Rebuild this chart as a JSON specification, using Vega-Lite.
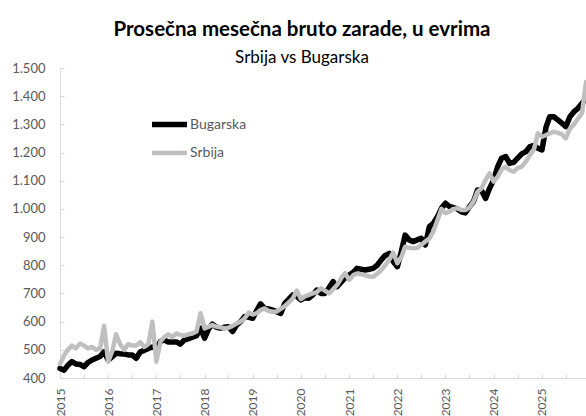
{
  "$schema": "https://vega.github.io/schema/vega-lite/v6.json",
  "width": 526,
  "height": 310,
  "autosize": "none",
  "padding": {"left": 60, "top": 68, "right": 0, "bottom": 38},
  "background": "white",
  "config": {"view": {"stroke": null}, "font": "Lato"},
  "title": {
    "text": "Prosečna mesečna bruto zarade, u evrima",
    "subtitle": "Srbija vs Bugarska",
    "anchor": "middle",
    "frame": "group",
    "dx": -21,
    "offset": -4,
    "font": "Lato",
    "fontSize": 20.5,
    "fontWeight": "bold",
    "color": "#000000",
    "subtitleFont": "Lato",
    "subtitleFontSize": 17,
    "subtitleColor": "#000000",
    "subtitlePadding": 10
  },
  "data": {"values": [
    {"d":"2015-01-01","Bugarska":434,"Srbija":450},
    {"d":"2015-02-01","Bugarska":428,"Srbija":480},
    {"d":"2015-03-01","Bugarska":445,"Srbija":500},
    {"d":"2015-04-01","Bugarska":458,"Srbija":515},
    {"d":"2015-05-01","Bugarska":450,"Srbija":505},
    {"d":"2015-06-01","Bugarska":448,"Srbija":522},
    {"d":"2015-07-01","Bugarska":440,"Srbija":515},
    {"d":"2015-08-01","Bugarska":455,"Srbija":505},
    {"d":"2015-09-01","Bugarska":464,"Srbija":510},
    {"d":"2015-10-01","Bugarska":470,"Srbija":500},
    {"d":"2015-11-01","Bugarska":476,"Srbija":505},
    {"d":"2015-12-01","Bugarska":493,"Srbija":585},
    {"d":"2016-01-01","Bugarska":464,"Srbija":458},
    {"d":"2016-02-01","Bugarska":475,"Srbija":495},
    {"d":"2016-03-01","Bugarska":488,"Srbija":555},
    {"d":"2016-04-01","Bugarska":486,"Srbija":520},
    {"d":"2016-05-01","Bugarska":485,"Srbija":500},
    {"d":"2016-06-01","Bugarska":482,"Srbija":520},
    {"d":"2016-07-01","Bugarska":482,"Srbija":515},
    {"d":"2016-08-01","Bugarska":470,"Srbija":515},
    {"d":"2016-09-01","Bugarska":493,"Srbija":527},
    {"d":"2016-10-01","Bugarska":498,"Srbija":510},
    {"d":"2016-11-01","Bugarska":505,"Srbija":520},
    {"d":"2016-12-01","Bugarska":510,"Srbija":600},
    {"d":"2017-01-01","Bugarska":505,"Srbija":458},
    {"d":"2017-02-01","Bugarska":530,"Srbija":530},
    {"d":"2017-03-01","Bugarska":535,"Srbija":545},
    {"d":"2017-04-01","Bugarska":528,"Srbija":555},
    {"d":"2017-05-01","Bugarska":528,"Srbija":545},
    {"d":"2017-06-01","Bugarska":528,"Srbija":558},
    {"d":"2017-07-01","Bugarska":520,"Srbija":553},
    {"d":"2017-08-01","Bugarska":535,"Srbija":550},
    {"d":"2017-09-01","Bugarska":540,"Srbija":555},
    {"d":"2017-10-01","Bugarska":545,"Srbija":558},
    {"d":"2017-11-01","Bugarska":550,"Srbija":565},
    {"d":"2017-12-01","Bugarska":577,"Srbija":630},
    {"d":"2018-01-01","Bugarska":541,"Srbija":576},
    {"d":"2018-02-01","Bugarska":575,"Srbija":582},
    {"d":"2018-03-01","Bugarska":591,"Srbija":588},
    {"d":"2018-04-01","Bugarska":580,"Srbija":582},
    {"d":"2018-05-01","Bugarska":577,"Srbija":580},
    {"d":"2018-06-01","Bugarska":580,"Srbija":576},
    {"d":"2018-07-01","Bugarska":582,"Srbija":578},
    {"d":"2018-08-01","Bugarska":565,"Srbija":585},
    {"d":"2018-09-01","Bugarska":588,"Srbija":594},
    {"d":"2018-10-01","Bugarska":600,"Srbija":600},
    {"d":"2018-11-01","Bugarska":618,"Srbija":612},
    {"d":"2018-12-01","Bugarska":615,"Srbija":632},
    {"d":"2019-01-01","Bugarska":612,"Srbija":625},
    {"d":"2019-02-01","Bugarska":640,"Srbija":630},
    {"d":"2019-03-01","Bugarska":663,"Srbija":641},
    {"d":"2019-04-01","Bugarska":647,"Srbija":647},
    {"d":"2019-05-01","Bugarska":645,"Srbija":638},
    {"d":"2019-06-01","Bugarska":641,"Srbija":635},
    {"d":"2019-07-01","Bugarska":635,"Srbija":636},
    {"d":"2019-08-01","Bugarska":629,"Srbija":645},
    {"d":"2019-09-01","Bugarska":665,"Srbija":655},
    {"d":"2019-10-01","Bugarska":680,"Srbija":668},
    {"d":"2019-11-01","Bugarska":695,"Srbija":683},
    {"d":"2019-12-01","Bugarska":690,"Srbija":710},
    {"d":"2020-01-01","Bugarska":677,"Srbija":680},
    {"d":"2020-02-01","Bugarska":685,"Srbija":690},
    {"d":"2020-03-01","Bugarska":683,"Srbija":695},
    {"d":"2020-04-01","Bugarska":695,"Srbija":700},
    {"d":"2020-05-01","Bugarska":712,"Srbija":705},
    {"d":"2020-06-01","Bugarska":700,"Srbija":718},
    {"d":"2020-07-01","Bugarska":700,"Srbija":710},
    {"d":"2020-08-01","Bugarska":720,"Srbija":700},
    {"d":"2020-09-01","Bugarska":742,"Srbija":715},
    {"d":"2020-10-01","Bugarska":724,"Srbija":730},
    {"d":"2020-11-01","Bugarska":740,"Srbija":754},
    {"d":"2020-12-01","Bugarska":755,"Srbija":772},
    {"d":"2021-01-01","Bugarska":765,"Srbija":748},
    {"d":"2021-02-01","Bugarska":775,"Srbija":765},
    {"d":"2021-03-01","Bugarska":789,"Srbija":771},
    {"d":"2021-04-01","Bugarska":786,"Srbija":768},
    {"d":"2021-05-01","Bugarska":783,"Srbija":765},
    {"d":"2021-06-01","Bugarska":786,"Srbija":760},
    {"d":"2021-07-01","Bugarska":789,"Srbija":759},
    {"d":"2021-08-01","Bugarska":800,"Srbija":770},
    {"d":"2021-09-01","Bugarska":819,"Srbija":783},
    {"d":"2021-10-01","Bugarska":835,"Srbija":800},
    {"d":"2021-11-01","Bugarska":842,"Srbija":820},
    {"d":"2021-12-01","Bugarska":813,"Srbija":845},
    {"d":"2022-01-01","Bugarska":795,"Srbija":807},
    {"d":"2022-02-01","Bugarska":850,"Srbija":830},
    {"d":"2022-03-01","Bugarska":907,"Srbija":866},
    {"d":"2022-04-01","Bugarska":890,"Srbija":862},
    {"d":"2022-05-01","Bugarska":884,"Srbija":860},
    {"d":"2022-06-01","Bugarska":890,"Srbija":862},
    {"d":"2022-07-01","Bugarska":896,"Srbija":872},
    {"d":"2022-08-01","Bugarska":872,"Srbija":884},
    {"d":"2022-09-01","Bugarska":937,"Srbija":895},
    {"d":"2022-10-01","Bugarska":949,"Srbija":920},
    {"d":"2022-11-01","Bugarska":972,"Srbija":960},
    {"d":"2022-12-01","Bugarska":1002,"Srbija":1000},
    {"d":"2023-01-01","Bugarska":1020,"Srbija":985},
    {"d":"2023-02-01","Bugarska":1008,"Srbija":990},
    {"d":"2023-03-01","Bugarska":1005,"Srbija":1000},
    {"d":"2023-04-01","Bugarska":1000,"Srbija":1002},
    {"d":"2023-05-01","Bugarska":990,"Srbija":996},
    {"d":"2023-06-01","Bugarska":986,"Srbija":996},
    {"d":"2023-07-01","Bugarska":1008,"Srbija":1005},
    {"d":"2023-08-01","Bugarska":1026,"Srbija":1026},
    {"d":"2023-09-01","Bugarska":1067,"Srbija":1061},
    {"d":"2023-10-01","Bugarska":1065,"Srbija":1073},
    {"d":"2023-11-01","Bugarska":1037,"Srbija":1103},
    {"d":"2023-12-01","Bugarska":1073,"Srbija":1126},
    {"d":"2024-01-01","Bugarska":1103,"Srbija":1097},
    {"d":"2024-02-01","Bugarska":1150,"Srbija":1114},
    {"d":"2024-03-01","Bugarska":1180,"Srbija":1140},
    {"d":"2024-04-01","Bugarska":1186,"Srbija":1150},
    {"d":"2024-05-01","Bugarska":1162,"Srbija":1138},
    {"d":"2024-06-01","Bugarska":1165,"Srbija":1132},
    {"d":"2024-07-01","Bugarska":1180,"Srbija":1145},
    {"d":"2024-08-01","Bugarska":1195,"Srbija":1150},
    {"d":"2024-09-01","Bugarska":1203,"Srbija":1168},
    {"d":"2024-10-01","Bugarska":1221,"Srbija":1190},
    {"d":"2024-11-01","Bugarska":1225,"Srbija":1210},
    {"d":"2024-12-01","Bugarska":1215,"Srbija":1268},
    {"d":"2025-01-01","Bugarska":1209,"Srbija":1256},
    {"d":"2025-02-01","Bugarska":1290,"Srbija":1262},
    {"d":"2025-03-01","Bugarska":1327,"Srbija":1268},
    {"d":"2025-04-01","Bugarska":1327,"Srbija":1274},
    {"d":"2025-05-01","Bugarska":1316,"Srbija":1270},
    {"d":"2025-06-01","Bugarska":1304,"Srbija":1265},
    {"d":"2025-07-01","Bugarska":1292,"Srbija":1250},
    {"d":"2025-08-01","Bugarska":1327,"Srbija":1285},
    {"d":"2025-09-01","Bugarska":1345,"Srbija":1300},
    {"d":"2025-10-01","Bugarska":1357,"Srbija":1320},
    {"d":"2025-11-01","Bugarska":1375,"Srbija":1340},
    {"d":"2025-12-01","Bugarska":1390,"Srbija":1450}
  ]},
  "transform": [
    {"fold": ["Bugarska", "Srbija"], "as": ["serija", "vrednost"]}
  ],
  "mark": {"type": "line", "strokeJoin": "round", "strokeCap": "round", "clip": false},
  "encoding": {
    "x": {
      "field": "d",
      "type": "temporal",
      "scale": {"type": "utc", "domain": ["2015-01-01", "2025-12-01"], "nice": false},
      "axis": {
        "title": null,
        "grid": false,
        "tickCount": {"interval": "month", "step": 6},
        "labelExpr": "utcmonth(datum.value) == 0 ? utcFormat(datum.value, '%Y') : ''",
        "labelAngle": -90,
        "labelFont": "Lato",
        "labelFontSize": 12,
        "labelColor": "#595959",
        "labelPadding": 14,
        "labelOverlap": false,
        "labelFlush": false,
        "tickSize": -4,
        "tickColor": "#d9d9d9",
        "domainColor": "#d9d9d9",
        "domainWidth": 1
      }
    },
    "y": {
      "field": "vrednost",
      "type": "quantitative",
      "scale": {"domain": [400, 1500], "nice": false, "zero": false},
      "axis": {
        "title": null,
        "grid": false,
        "values": [400, 500, 600, 700, 800, 900, 1000, 1100, 1200, 1300, 1400, 1500],
        "labelExpr": "replace(format(datum.value, ','), ',', '.')",
        "labelFont": "Lato",
        "labelFontSize": 13,
        "labelColor": "#595959",
        "labelPadding": 19,
        "labelOverlap": false,
        "tickSize": -4,
        "tickColor": "#d9d9d9",
        "domainColor": "#d9d9d9",
        "domainWidth": 1
      }
    },
    "color": {
      "field": "serija",
      "type": "nominal",
      "scale": {"domain": ["Bugarska", "Srbija"], "range": ["#000000", "#bfbfbf"]},
      "legend": {
        "title": null,
        "orient": "none",
        "legendX": 99.5,
        "legendY": 46.5,
        "symbolType": "M-2.5,0H2.5",
        "symbolSize": 196,
        "symbolStrokeWidth": 5,
        "labelFont": "Lato",
        "labelFontSize": 14,
        "labelColor": "#595959",
        "labelOffset": 10.5,
        "rowPadding": 8
      }
    },
    "strokeWidth": {
      "field": "serija",
      "type": "nominal",
      "scale": {"domain": ["Bugarska", "Srbija"], "range": [5.5, 4.5]},
      "legend": null
    }
  }
}
